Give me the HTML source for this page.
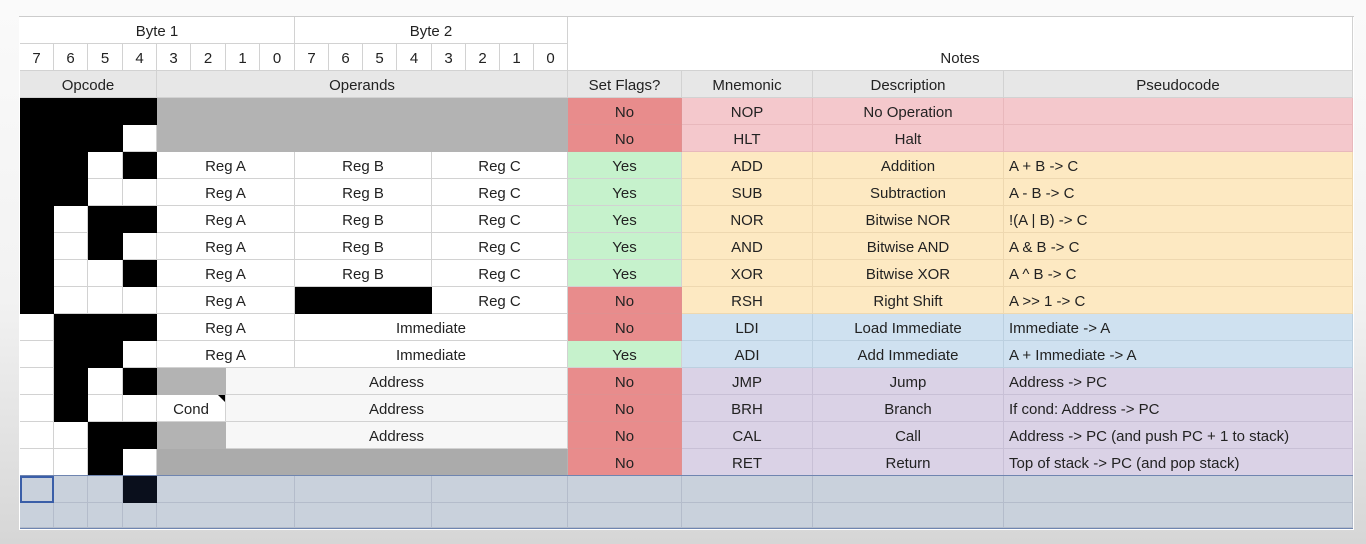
<!DOCTYPE html>
<html><head><meta charset="utf-8"><style>
body{margin:0;width:1366px;height:544px;overflow:hidden;background:linear-gradient(180deg,#fafafa 0%,#f2f2f2 55%,#d6d6d6 100%);font-family:"Liberation Sans",sans-serif;font-size:15px;color:#222;position:relative}
.c{position:absolute;box-sizing:border-box;border-right:1px solid #d2d2d2;border-bottom:1px solid #d2d2d2;text-align:center;line-height:29px;height:27px;white-space:nowrap;overflow:hidden}
.k{background:#000;border-color:#000}.w{background:#fff}
.g{background:#b3b3b3;border-color:#b3b3b3}
.h{background:#e7e7e7}
.no{background:#e88c8c;border-color:#e09090}.yes{background:#c6f2cc}
.pk{background:#f4c8cc;border-color:#e8b8bc}.yl{background:#fde9c2;border-color:#eed8b0}.bl{background:#cfe1f0;border-color:#bcd0e0}.pu{background:#dad2e6;border-color:#c8c0d6}
.p{text-align:left;padding-left:5px}
.bk{background:#c9d1dc;border-color:#b4bccb}
</style></head><body>
<div style="position:absolute;left:19px;top:16px;width:1335px;height:513px;background:#fff;border-top:1px solid #ccc"></div>
<!-- header -->
<div class="c w" style="left:20px;top:17px;width:275px">Byte 1</div>
<div class="c w" style="left:295px;top:17px;width:273px">Byte 2</div>
<div class="c w" style="left:568px;top:17px;width:785px;height:54px;line-height:84px">Notes</div>
<div class="c w" style="left:20px;top:44px;width:34px">7</div><div class="c w" style="left:54px;top:44px;width:34px">6</div><div class="c w" style="left:88px;top:44px;width:35px">5</div><div class="c w" style="left:123px;top:44px;width:34px">4</div><div class="c w" style="left:157px;top:44px;width:34px">3</div><div class="c w" style="left:191px;top:44px;width:35px">2</div><div class="c w" style="left:226px;top:44px;width:34px">1</div><div class="c w" style="left:260px;top:44px;width:35px">0</div>
<div class="c w" style="left:295px;top:44px;width:34px">7</div><div class="c w" style="left:329px;top:44px;width:34px">6</div><div class="c w" style="left:363px;top:44px;width:34px">5</div><div class="c w" style="left:397px;top:44px;width:35px">4</div><div class="c w" style="left:432px;top:44px;width:34px">3</div><div class="c w" style="left:466px;top:44px;width:34px">2</div><div class="c w" style="left:500px;top:44px;width:34px">1</div><div class="c w" style="left:534px;top:44px;width:34px">0</div>
<div class="c h" style="left:20px;top:71px;width:137px">Opcode</div>
<div class="c h" style="left:157px;top:71px;width:411px">Operands</div>
<div class="c h" style="left:568px;top:71px;width:114px">Set Flags?</div>
<div class="c h" style="left:682px;top:71px;width:131px">Mnemonic</div>
<div class="c h" style="left:813px;top:71px;width:191px">Description</div>
<div class="c h" style="left:1004px;top:71px;width:349px">Pseudocode</div>

<!-- opcode bits -->
<div class="c k" style="left:20px;top:98px;width:34px"></div><div class="c k" style="left:54px;top:98px;width:34px"></div><div class="c k" style="left:88px;top:98px;width:35px"></div><div class="c k" style="left:123px;top:98px;width:34px"></div>
<div class="c k" style="left:20px;top:125px;width:34px"></div><div class="c k" style="left:54px;top:125px;width:34px"></div><div class="c k" style="left:88px;top:125px;width:35px"></div><div class="c w" style="left:123px;top:125px;width:34px"></div>
<div class="c k" style="left:20px;top:152px;width:34px"></div><div class="c k" style="left:54px;top:152px;width:34px"></div><div class="c w" style="left:88px;top:152px;width:35px"></div><div class="c k" style="left:123px;top:152px;width:34px"></div>
<div class="c k" style="left:20px;top:179px;width:34px"></div><div class="c k" style="left:54px;top:179px;width:34px"></div><div class="c w" style="left:88px;top:179px;width:35px"></div><div class="c w" style="left:123px;top:179px;width:34px"></div>
<div class="c k" style="left:20px;top:206px;width:34px"></div><div class="c w" style="left:54px;top:206px;width:34px"></div><div class="c k" style="left:88px;top:206px;width:35px"></div><div class="c k" style="left:123px;top:206px;width:34px"></div>
<div class="c k" style="left:20px;top:233px;width:34px"></div><div class="c w" style="left:54px;top:233px;width:34px"></div><div class="c k" style="left:88px;top:233px;width:35px"></div><div class="c w" style="left:123px;top:233px;width:34px"></div>
<div class="c k" style="left:20px;top:260px;width:34px"></div><div class="c w" style="left:54px;top:260px;width:34px"></div><div class="c w" style="left:88px;top:260px;width:35px"></div><div class="c k" style="left:123px;top:260px;width:34px"></div>
<div class="c k" style="left:20px;top:287px;width:34px"></div><div class="c w" style="left:54px;top:287px;width:34px"></div><div class="c w" style="left:88px;top:287px;width:35px"></div><div class="c w" style="left:123px;top:287px;width:34px"></div>
<div class="c w" style="left:20px;top:314px;width:34px"></div><div class="c k" style="left:54px;top:314px;width:34px"></div><div class="c k" style="left:88px;top:314px;width:35px"></div><div class="c k" style="left:123px;top:314px;width:34px"></div>
<div class="c w" style="left:20px;top:341px;width:34px"></div><div class="c k" style="left:54px;top:341px;width:34px"></div><div class="c k" style="left:88px;top:341px;width:35px"></div><div class="c w" style="left:123px;top:341px;width:34px"></div>
<div class="c w" style="left:20px;top:368px;width:34px"></div><div class="c k" style="left:54px;top:368px;width:34px"></div><div class="c w" style="left:88px;top:368px;width:35px"></div><div class="c k" style="left:123px;top:368px;width:34px"></div>
<div class="c w" style="left:20px;top:395px;width:34px"></div><div class="c k" style="left:54px;top:395px;width:34px"></div><div class="c w" style="left:88px;top:395px;width:35px"></div><div class="c w" style="left:123px;top:395px;width:34px"></div>
<div class="c w" style="left:20px;top:422px;width:34px"></div><div class="c w" style="left:54px;top:422px;width:34px"></div><div class="c k" style="left:88px;top:422px;width:35px"></div><div class="c k" style="left:123px;top:422px;width:34px"></div>
<div class="c w" style="left:20px;top:449px;width:34px"></div><div class="c w" style="left:54px;top:449px;width:34px"></div><div class="c k" style="left:88px;top:449px;width:35px"></div><div class="c w" style="left:123px;top:449px;width:34px"></div>

<!-- operands -->
<div class="c g" style="left:157px;top:98px;width:411px"></div>
<div class="c g" style="left:157px;top:125px;width:411px"></div>
<div class="c w" style="left:157px;top:152px;width:138px">Reg A</div><div class="c w" style="left:295px;top:152px;width:137px">Reg B</div><div class="c w" style="left:432px;top:152px;width:136px">Reg C</div>
<div class="c w" style="left:157px;top:179px;width:138px">Reg A</div><div class="c w" style="left:295px;top:179px;width:137px">Reg B</div><div class="c w" style="left:432px;top:179px;width:136px">Reg C</div>
<div class="c w" style="left:157px;top:206px;width:138px">Reg A</div><div class="c w" style="left:295px;top:206px;width:137px">Reg B</div><div class="c w" style="left:432px;top:206px;width:136px">Reg C</div>
<div class="c w" style="left:157px;top:233px;width:138px">Reg A</div><div class="c w" style="left:295px;top:233px;width:137px">Reg B</div><div class="c w" style="left:432px;top:233px;width:136px">Reg C</div>
<div class="c w" style="left:157px;top:260px;width:138px">Reg A</div><div class="c w" style="left:295px;top:260px;width:137px">Reg B</div><div class="c w" style="left:432px;top:260px;width:136px">Reg C</div>
<div class="c w" style="left:157px;top:287px;width:138px">Reg A</div><div class="c k" style="left:295px;top:287px;width:137px"></div><div class="c w" style="left:432px;top:287px;width:136px">Reg C</div>
<div class="c w" style="left:157px;top:314px;width:138px">Reg A</div><div class="c w" style="left:295px;top:314px;width:273px">Immediate</div>
<div class="c w" style="left:157px;top:341px;width:138px">Reg A</div><div class="c w" style="left:295px;top:341px;width:273px">Immediate</div>
<div class="c g" style="left:157px;top:368px;width:69px"></div><div class="c w" style="left:226px;top:368px;width:342px;background:#f7f7f7">Address</div>
<div class="c w" style="left:157px;top:395px;width:69px">Cond</div><div style="position:absolute;left:218px;top:395px;width:0;height:0;border-left:7px solid transparent;border-top:7px solid #000"></div><div class="c w" style="left:226px;top:395px;width:342px;background:#f7f7f7">Address</div>
<div class="c g" style="left:157px;top:422px;width:69px"></div><div class="c w" style="left:226px;top:422px;width:342px;background:#f7f7f7">Address</div>
<div class="c g" style="left:157px;top:449px;width:411px;background:#ababab"></div>

<!-- flags -->
<div class="c no" style="left:568px;top:98px;width:114px">No</div>
<div class="c no" style="left:568px;top:125px;width:114px">No</div>
<div class="c yes" style="left:568px;top:152px;width:114px">Yes</div>
<div class="c yes" style="left:568px;top:179px;width:114px">Yes</div>
<div class="c yes" style="left:568px;top:206px;width:114px">Yes</div>
<div class="c yes" style="left:568px;top:233px;width:114px">Yes</div>
<div class="c yes" style="left:568px;top:260px;width:114px">Yes</div>
<div class="c no" style="left:568px;top:287px;width:114px">No</div>
<div class="c no" style="left:568px;top:314px;width:114px">No</div>
<div class="c yes" style="left:568px;top:341px;width:114px">Yes</div>
<div class="c no" style="left:568px;top:368px;width:114px">No</div>
<div class="c no" style="left:568px;top:395px;width:114px">No</div>
<div class="c no" style="left:568px;top:422px;width:114px">No</div>
<div class="c no" style="left:568px;top:449px;width:114px">No</div>

<!-- notes -->
<div class="c pk" style="left:682px;top:98px;width:131px">NOP</div><div class="c pk" style="left:813px;top:98px;width:191px">No Operation</div><div class="c pk p" style="left:1004px;top:98px;width:349px"></div>
<div class="c pk" style="left:682px;top:125px;width:131px">HLT</div><div class="c pk" style="left:813px;top:125px;width:191px">Halt</div><div class="c pk p" style="left:1004px;top:125px;width:349px"></div>
<div class="c yl" style="left:682px;top:152px;width:131px">ADD</div><div class="c yl" style="left:813px;top:152px;width:191px">Addition</div><div class="c yl p" style="left:1004px;top:152px;width:349px">A + B -&gt; C</div>
<div class="c yl" style="left:682px;top:179px;width:131px">SUB</div><div class="c yl" style="left:813px;top:179px;width:191px">Subtraction</div><div class="c yl p" style="left:1004px;top:179px;width:349px">A - B -&gt; C</div>
<div class="c yl" style="left:682px;top:206px;width:131px">NOR</div><div class="c yl" style="left:813px;top:206px;width:191px">Bitwise NOR</div><div class="c yl p" style="left:1004px;top:206px;width:349px">!(A | B) -&gt; C</div>
<div class="c yl" style="left:682px;top:233px;width:131px">AND</div><div class="c yl" style="left:813px;top:233px;width:191px">Bitwise AND</div><div class="c yl p" style="left:1004px;top:233px;width:349px">A &amp; B -&gt; C</div>
<div class="c yl" style="left:682px;top:260px;width:131px">XOR</div><div class="c yl" style="left:813px;top:260px;width:191px">Bitwise XOR</div><div class="c yl p" style="left:1004px;top:260px;width:349px">A ^ B -&gt; C</div>
<div class="c yl" style="left:682px;top:287px;width:131px">RSH</div><div class="c yl" style="left:813px;top:287px;width:191px">Right Shift</div><div class="c yl p" style="left:1004px;top:287px;width:349px">A &gt;&gt; 1 -&gt; C</div>
<div class="c bl" style="left:682px;top:314px;width:131px">LDI</div><div class="c bl" style="left:813px;top:314px;width:191px">Load Immediate</div><div class="c bl p" style="left:1004px;top:314px;width:349px">Immediate -&gt; A</div>
<div class="c bl" style="left:682px;top:341px;width:131px">ADI</div><div class="c bl" style="left:813px;top:341px;width:191px">Add Immediate</div><div class="c bl p" style="left:1004px;top:341px;width:349px">A + Immediate -&gt; A</div>
<div class="c pu" style="left:682px;top:368px;width:131px">JMP</div><div class="c pu" style="left:813px;top:368px;width:191px">Jump</div><div class="c pu p" style="left:1004px;top:368px;width:349px">Address -&gt; PC</div>
<div class="c pu" style="left:682px;top:395px;width:131px">BRH</div><div class="c pu" style="left:813px;top:395px;width:191px">Branch</div><div class="c pu p" style="left:1004px;top:395px;width:349px">If cond: Address -&gt; PC</div>
<div class="c pu" style="left:682px;top:422px;width:131px">CAL</div><div class="c pu" style="left:813px;top:422px;width:191px">Call</div><div class="c pu p" style="left:1004px;top:422px;width:349px">Address -&gt; PC (and push PC + 1 to stack)</div>
<div class="c pu" style="left:682px;top:449px;width:131px">RET</div><div class="c pu" style="left:813px;top:449px;width:191px">Return</div><div class="c pu p" style="left:1004px;top:449px;width:349px">Top of stack -&gt; PC (and pop stack)</div>

<!-- blank selected rows -->
<div class="c bk" style="left:20px;top:476px;width:34px;border:2px solid #3a5ea8"></div><div class="c bk" style="left:54px;top:476px;width:34px"></div><div class="c bk" style="left:88px;top:476px;width:35px"></div><div class="c" style="left:123px;top:476px;width:34px;background:#0a0f1c;border-color:#0a0f1c"></div>
<div class="c bk" style="left:157px;top:476px;width:138px"></div><div class="c bk" style="left:295px;top:476px;width:137px"></div><div class="c bk" style="left:432px;top:476px;width:136px"></div><div class="c bk" style="left:568px;top:476px;width:114px"></div><div class="c bk" style="left:682px;top:476px;width:131px"></div><div class="c bk" style="left:813px;top:476px;width:191px"></div><div class="c bk" style="left:1004px;top:476px;width:349px"></div>
<div class="c bk" style="left:20px;top:503px;width:34px;height:25px"></div><div class="c bk" style="left:54px;top:503px;width:34px;height:25px"></div><div class="c bk" style="left:88px;top:503px;width:35px;height:25px"></div><div class="c bk" style="left:123px;top:503px;width:34px;height:25px"></div>
<div class="c bk" style="left:157px;top:503px;width:138px;height:25px"></div><div class="c bk" style="left:295px;top:503px;width:137px;height:25px"></div><div class="c bk" style="left:432px;top:503px;width:136px;height:25px"></div><div class="c bk" style="left:568px;top:503px;width:114px;height:25px"></div><div class="c bk" style="left:682px;top:503px;width:131px;height:25px"></div><div class="c bk" style="left:813px;top:503px;width:191px;height:25px"></div><div class="c bk" style="left:1004px;top:503px;width:349px;height:25px"></div>
<div style="position:absolute;left:20px;top:475px;width:1333px;height:1px;background:#6f85b0"></div>
<div style="position:absolute;left:20px;top:528px;width:1333px;height:1px;background:#6f85b0"></div>
</body></html>
